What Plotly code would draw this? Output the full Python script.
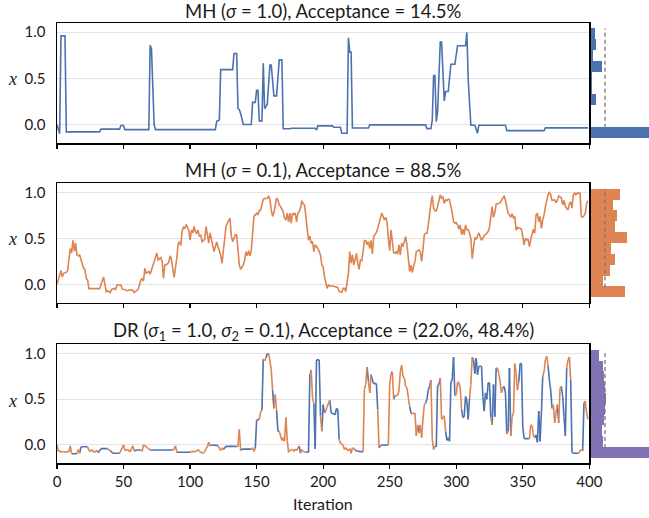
import plotly.graph_objects as go

# ---------------- data ----------------
# Panel 1: MH sigma=1.0  (vertices of the trace: iteration, x)
mh1_iter = [0, 2, 3, 6, 7, 32, 33, 47, 48, 50, 51, 69, 70, 71, 73, 74, 119, 120, 122, 123,
            132, 133, 135, 136, 137, 138, 140, 146, 147, 149, 150, 151, 152, 154, 155, 156,
            158, 160, 161, 163, 165, 167, 169, 170, 175, 176, 194, 195, 196, 207, 208, 213,
            214, 218, 219, 220, 221, 222, 234, 235, 277, 278, 281, 282, 283, 284, 285, 286,
            288, 289, 291, 292, 294, 296, 299, 301, 307, 308, 309, 311, 314, 316, 317, 337,
            338, 366, 367, 399]
mh1_vals = [0.0, -0.1, 0.96, 0.96, -0.08, -0.08, -0.05, -0.05, -0.01, -0.01, -0.055, -0.055,
            0.86, 0.82, 0.0, -0.055, -0.055, 0.035, 0.05, 0.595, 0.595, 0.77, 0.77, 0.175,
            0.16, 0.12, 0.0, 0.0, 0.24, 0.24, 0.37, 0.37, 0.04, 0.04, 0.665, 0.17, 0.22, 0.645,
            0.645, 0.31, 0.31, 0.70, 0.70, -0.045, -0.045, -0.04, -0.04, -0.06, -0.015, -0.015,
            -0.03, -0.03, -0.095, -0.095, 0.94, 0.785, 0.785, -0.037, -0.037, -0.004, -0.004,
            -0.044, -0.044, 0.05, 0.53, 0.53, 0.03, 0.14, 0.894, 0.894, 0.255, 0.358, 0.358,
            0.653, 0.653, 0.854, 0.854, 1.0, 0.49, -0.007, -0.007, -0.095, -0.007, -0.007,
            -0.066, -0.066, -0.036, -0.036]

# Panel 2: MH sigma=0.1
mh2_iter = [0, 1, 3, 4, 5, 7, 8, 9, 10, 11, 12, 13, 14, 15, 16, 17, 18, 19, 20, 21, 22, 23, 24,
            32, 34, 35, 37, 38, 40, 41, 43, 44, 45, 48, 49, 51, 53, 55, 57, 58, 60, 61, 63, 64,
            65, 66, 67, 69, 70, 71, 73, 74, 75, 76, 77, 78, 79, 80, 81, 82, 84, 85, 86, 87, 88,
            90, 91, 92, 93, 94, 95, 96, 97, 98, 99, 100, 101, 102, 103, 104, 105, 106, 107, 108,
            109, 111, 112, 113, 114, 115, 116, 117, 118, 119, 120, 121, 122, 123, 124, 125, 126,
            127, 128, 129, 130, 131, 132, 133, 134, 135, 136, 137, 138, 140, 141, 142, 143, 144,
            145, 146, 147, 148, 149, 150, 151, 152, 153, 154, 155, 156, 158, 159, 160, 161, 162,
            163, 164, 165, 166, 167, 168, 169, 170, 171, 172, 173, 174, 175, 176, 177, 178, 179,
            180, 181, 182, 183, 184, 185, 186, 187, 188, 189, 190, 191, 192, 193, 194, 195, 196,
            197, 198, 199, 200, 201, 202, 203, 204, 205, 207, 209, 211, 212, 214, 215, 216, 217,
            218, 219, 220, 221, 222, 223, 224, 225, 226, 227, 228, 229, 230, 231, 232, 233, 234,
            235, 236, 237, 238, 239, 240, 241, 242, 243, 244, 245, 246, 247, 248, 249, 250, 251,
            252, 253, 254, 255, 256, 257, 258, 259, 260, 261, 262, 263, 264, 265, 266, 267, 268,
            269, 270, 271, 272, 273, 274, 275, 276, 277, 278, 279, 280, 281, 282, 283, 284, 285,
            286, 287, 288, 289, 290, 291, 292, 293, 294, 295, 296, 297, 298, 299, 300, 301, 302,
            303, 304, 305, 306, 307, 308, 309, 310, 311, 312, 313, 314, 315, 316, 317, 318, 319,
            320, 321, 322, 323, 324, 325, 326, 327, 328, 329, 330, 331, 332, 333, 334, 335, 336,
            337, 338, 339, 340, 341, 342, 343, 344, 345, 346, 347, 348, 349, 350, 351, 352, 353,
            354, 355, 356, 357, 358, 359, 360, 361, 362, 363, 364, 365, 366, 367, 368, 369, 370,
            371, 372, 373, 374, 375, 376, 377, 378, 379, 380, 381, 382, 383, 384, 385, 386, 387,
            388, 389, 390, 391, 393, 394, 395, 396, 397, 398, 399]
mh2_vals = [0.0, 0.05, 0.15, 0.08, 0.12, 0.13, 0.15, 0.28, 0.39, 0.34, 0.48, 0.36, 0.45, 0.32,
            0.31, 0.32, 0.27, 0.20, 0.175, 0.16, 0.065, 0.047, -0.047, -0.047, 0.03, 0.08, -0.08,
            -0.07, -0.09, -0.055, -0.044, -0.06, -0.007, -0.007, -0.05, -0.06, -0.07, -0.06,
            -0.065, -0.09, -0.07, -0.055, 0.047, 0.06, 0.036, 0.175, 0.12, 0.14, 0.11, 0.16, 0.25,
            0.29, 0.34, 0.265, 0.28, 0.29, 0.25, 0.065, 0.21, 0.21, 0.24, 0.31, 0.27, 0.175,
            0.076, 0.28, 0.44, 0.465, 0.42, 0.575, 0.62, 0.61, 0.65, 0.62, 0.59, 0.48, 0.59, 0.56,
            0.63, 0.575, 0.556, 0.59, 0.52, 0.54, 0.465, 0.49, 0.63, 0.54, 0.45, 0.56, 0.50,
            0.447, 0.356, 0.41, 0.46, 0.41, 0.356, 0.32, 0.23, 0.39, 0.48, 0.63, 0.665, 0.70,
            0.72, 0.527, 0.465, 0.50, 0.54, 0.54, 0.40, 0.21, 0.164, 0.21, 0.265, 0.356, 0.31,
            0.367, 0.31, 0.367, 0.556, 0.74, 0.756, 0.775, 0.756, 0.80, 0.81, 0.876, 0.927,
            0.935, 0.935, 0.964, 0.927, 0.81, 0.74, 0.78, 0.847, 0.94, 0.92, 0.865, 0.847, 0.81,
            0.79, 0.72, 0.70, 0.775, 0.68, 0.775, 0.665, 0.775, 0.76, 0.775, 0.68, 0.775, 0.79,
            0.83, 0.91, 0.875, 0.865, 0.74, 0.61, 0.48, 0.527, 0.447, 0.465, 0.356, 0.43, 0.41,
            0.39, 0.356, 0.32, 0.21, 0.19, 0.084, 0.03, -0.044, -0.007, -0.018, -0.018, -0.025,
            -0.033, -0.08, -0.087, -0.044, -0.044, -0.08, 0.047, 0.12, 0.356, 0.23, 0.32, 0.21,
            0.265, 0.338, 0.23, 0.164, 0.265, 0.258, 0.356, 0.476, 0.476, 0.43, 0.465, 0.39,
            0.48, 0.33, 0.52, 0.54, 0.565, 0.61, 0.665, 0.72, 0.775, 0.74, 0.70, 0.73, 0.68,
            0.50, 0.367, 0.594, 0.465, 0.345, 0.338, 0.356, 0.33, 0.43, 0.32, 0.45, 0.41, 0.465,
            0.52, 0.43, 0.28, 0.14, 0.21, 0.127, 0.20, 0.25, 0.356, 0.367, 0.375, 0.356, 0.25,
            0.38, 0.54, 0.556, 0.556, 0.647, 0.79, 0.88, 0.964, 0.83, 0.80, 0.80, 0.847, 0.92,
            0.975, 0.94, 0.95, 0.88, 0.92, 0.91, 0.927, 0.92, 0.855, 0.775, 0.68, 0.665, 0.67,
            0.647, 0.60, 0.647, 0.54, 0.60, 0.54, 0.647, 0.594, 0.594, 0.556, 0.50, 0.28, 0.41,
            0.51, 0.49, 0.53, 0.56, 0.52, 0.48, 0.50, 0.53, 0.54, 0.556, 0.575, 0.62, 0.756,
            0.847, 0.73, 0.775, 0.876, 0.876, 0.88, 0.89, 0.92, 0.94, 0.964, 0.913, 0.83, 0.775,
            0.756, 0.73, 0.77, 0.72, 0.74, 0.59, 0.62, 0.61, 0.61, 0.60, 0.52, 0.43, 0.50, 0.485,
            0.49, 0.41, 0.49, 0.556, 0.60, 0.556, 0.756, 0.775, 0.68, 0.74, 0.61, 0.70, 0.756,
            0.847, 0.91, 0.975, 1.0, 0.975, 0.913, 0.913, 0.92, 0.89, 0.913, 0.964, 0.956, 0.94,
            0.865, 0.913, 0.847, 0.83, 0.81, 0.876, 0.90, 0.83, 0.975, 0.993, 0.975, 0.993,
            0.993, 0.74, 0.73, 0.745, 0.775, 0.88, 0.91]

# Panel 3: delayed rejection; stage = 1 (first proposal, blue) or 2 (second stage, orange)
dr_iter = [0, 1, 2, 3, 5, 7, 8, 9, 10, 11, 15, 16, 17, 18, 23, 24, 25, 26, 28, 30, 31, 33, 38,
           39, 40, 42, 47, 49, 50, 51, 53, 55, 56, 57, 58, 60, 63, 64, 65, 66, 68, 70, 87, 88,
           89, 90, 100, 101, 103, 105, 106, 107, 109, 110, 111, 112, 113, 114, 115, 116, 121,
           122, 123, 124, 125, 127, 135, 136, 137, 138, 139, 146, 147, 148, 149, 150, 152, 153,
           154, 155, 156, 157, 158, 159, 160, 161, 162, 163, 164, 165, 166, 167, 168, 169, 170,
           171, 172, 173, 174, 175, 176, 177, 178, 179, 180, 182, 183, 184, 185, 187, 189, 190,
           191, 192, 193, 194, 195, 197, 198, 199, 200, 201, 202, 203, 205, 206, 208, 209, 210,
           211, 212, 213, 214, 215, 216, 217, 219, 220, 221, 222, 224, 225, 230, 231, 232, 233,
           234, 235, 236, 237, 238, 240, 241, 242, 243, 244, 249, 250, 251, 252, 253, 254, 256,
           257, 258, 259, 260, 261, 262, 263, 264, 265, 266, 267, 269, 270, 271, 272, 273, 274,
           275, 276, 277, 278, 279, 280, 281, 282, 283, 284, 285, 286, 287, 288, 289, 290, 291,
           292, 293, 294, 295, 296, 297, 298, 299, 300, 301, 302, 303, 304, 305, 306, 307, 308,
           309, 310, 311, 312, 313, 314, 315, 316, 317, 319, 320, 321, 322, 323, 324, 325, 326,
           327, 328, 329, 330, 331, 332, 333, 334, 335, 336, 337, 338, 339, 340, 341, 342, 343,
           344, 345, 346, 347, 348, 349, 350, 351, 355, 356, 357, 358, 359, 360, 361, 362, 363,
           364, 365, 366, 367, 368, 369, 370, 371, 372, 373, 374, 375, 376, 377, 378, 379, 380,
           381, 382, 383, 384, 385, 386, 387, 388, 392, 393, 394, 395, 396, 397, 398, 399]
dr_vals = [0.0, -0.07, -0.06, -0.08, -0.07, -0.085, -0.065, -0.075, -0.01, -0.095, -0.095, -0.05,
           -0.09, -0.02, -0.02, -0.06, -0.07, -0.05, -0.08, -0.06, -0.085, -0.04, -0.04, -0.055,
           -0.06, -0.09, -0.09, -0.03, 0.0, -0.06, -0.05, -0.075, -0.04, -0.01, -0.065, -0.055,
           -0.055, -0.07, 0.0, -0.01, -0.03, -0.055, -0.055, -0.045, -0.01, -0.08, -0.08, -0.07,
           -0.075, -0.065, -0.05, -0.07, -0.085, -0.09, -0.07, -0.04, -0.02, 0.03, -0.01, 0.0,
           -0.005, -0.04, -0.06, -0.03, -0.05, -0.015, -0.015, -0.02, 0.17, -0.06, -0.045,
           -0.045, -0.03, -0.07, -0.04, 0.27, 0.28, 0.36, 0.38, 0.94, 0.92, 0.95, 1.0, 1.0, 0.92,
           0.82, 0.6, 0.4, 0.55, 0.38, 0.15, 0.15, 0.1, 0.05, 0.08, 0.04, 0.3, 0.05, -0.08,
           -0.06, -0.05, -0.05, -0.07, -0.045, -0.06, -0.01, -0.09, -0.05, -0.07, -0.08, -0.08,
           0.77, 0.82, 0.52, 0.45, -0.04, 0.93, 0.93, 0.32, 0.15, 0.44, 0.35, 0.37, 0.42, 0.49,
           0.35, 0.34, 0.33, 0.40, 0.39, 0.06, 0.02, 0.01, 0.0, -0.05, -0.03, -0.065, -0.04,
           -0.09, -0.03, -0.05, -0.065, -0.075, 0.61, 0.66, 0.85, 0.70, 0.57, 0.77, 0.71, 0.67,
           0.67, 0.39, -0.03, -0.01, 0.0, 0.0, 0.66, 0.78, 0.80, 0.5, 0.54, 0.54, 0.6, 0.80,
           0.87, 0.75, 0.73, 0.64, 0.62, 0.52, 0.42, 0.35, 0.34, 0.35, 0.1, 0.22, 0.13, 0.22,
           0.08, 0.28, 0.44, 0.46, 0.5, 0.6, 0.64, 0.71, 0.06, -0.05, -0.01, -0.02, 0.65, 0.66,
           0.73, 0.28, 0.30, 0.32, 0.15, 0.05, 0.08, 0.04, 0.69, 0.71, 0.96, 0.54, 0.55, 0.69,
           0.68, 0.62, 0.39, 0.30, 0.31, 0.53, 0.48, 0.28, 0.51, 0.66, 0.96, 0.93, 0.78, 0.95,
           0.77, 0.86, 0.86, 0.53, 0.37, 0.57, 0.5, 0.68, 0.68, 0.30, 0.22, 0.66, 0.31, 0.84,
           0.84, 0.78, 0.69, 0.57, 0.62, 0.64, 0.57, 0.12, 0.15, 0.84, 0.10, 0.31, 0.35, 0.89,
           0.78, 0.60, 0.69, 0.89, 0.89, 0.2, 0.07, 0.07, 0.22, 0.21, 0.10, 0.08, 0.11, 0.03,
           0.37, 0.04, 0.35, 0.75, 0.80, 0.93, 0.97, 0.87, 0.71, 0.60, 0.40, 0.44, 0.24, 0.35,
           0.44, 0.24, 0.62, 0.64, 0.53, 0.31, 0.10, 0.84, 0.93, 0.96, 0.71, -0.08, -0.09, -0.09,
           -0.065, -0.05, -0.065, 0.46, 0.48, 0.35, 0.28]
dr_stage = [1, 2, 2, 2, 2, 2, 2, 2, 2, 2, 1, 2, 2, 1, 1, 2, 2, 2, 2, 2, 2, 1, 1, 2, 2, 1, 1, 2,
            2, 2, 2, 2, 2, 2, 2, 1, 1, 2, 2, 2, 2, 2, 1, 2, 2, 2, 1, 2, 2, 2, 2, 2, 2, 2, 2, 2,
            2, 2, 2, 1, 1, 2, 2, 2, 2, 1, 1, 2, 2, 2, 1, 1, 2, 2, 2, 1, 1, 2, 2, 1, 2, 2, 1, 2,
            2, 2, 2, 1, 2, 2, 1, 1, 2, 2, 2, 2, 2, 2, 2, 2, 2, 2, 2, 2, 2, 2, 1, 2, 2, 2, 1, 1,
            2, 2, 2, 1, 1, 1, 1, 2, 1, 1, 2, 2, 2, 1, 1, 1, 1, 1, 1, 2, 2, 2, 2, 2, 2, 2, 2, 2,
            2, 1, 1, 2, 2, 2, 1, 2, 2, 1, 1, 1, 1, 2, 1, 1, 1, 2, 2, 1, 2, 1, 2, 2, 2, 2, 2, 2,
            2, 2, 2, 2, 1, 1, 2, 2, 2, 1, 2, 2, 2, 2, 2, 1, 1, 1, 1, 2, 2, 2, 1, 1, 1, 1, 2, 2,
            2, 2, 1, 1, 1, 1, 1, 1, 1, 2, 2, 2, 2, 2, 1, 1, 1, 1, 1, 1, 2, 2, 1, 1, 1, 1, 1, 1,
            1, 1, 1, 1, 1, 1, 1, 2, 1, 1, 1, 2, 2, 2, 2, 2, 1, 1, 1, 2, 1, 1, 2, 2, 2, 2, 2, 2,
            1, 1, 1, 1, 1, 2, 2, 2, 2, 1, 1, 1, 1, 1, 1, 2, 2, 2, 2, 1, 1, 1, 2, 2, 2, 2, 1, 2,
            2, 1, 1, 1, 1, 2, 2, 2, 1, 1, 1, 2, 2, 2, 1, 2, 2, 2]

# Histograms (10 equal bins over the chain's range, bottom bin first), relative widths
hist_lo, hist_hi = -0.1, 1.0
mh1_hist = [7.0, 0.03, 0.03, 0.41, 0.11, 0.07, 0.76, 0.14, 0.41, 0.28]
mh2_hist = [2.37, 0.87, 1.33, 1.72, 1.38, 2.52, 1.68, 1.86, 1.52, 2.02]
dr_hist = [7.0, 0.88, 0.76, 0.90, 0.99, 1.05, 0.99, 0.92, 0.83, 0.60]
target_density = 1.0

titles = ["MH (<i>σ</i> = 1.0), Acceptance = 14.5%",
          "MH (<i>σ</i> = 0.1), Acceptance = 88.5%",
          "DR (<i>σ</i><sub>1</sub> = 1.0, <i>σ</i><sub>2</sub> = 0.1), Acceptance = (22.0%, 48.4%)"]
x_ticks = [0, 50, 100, 150, 200, 250, 300, 350, 400]
y_ticks = [0.0, 0.5, 1.0]
y_ticktext = ["0.0", "0.5", "1.0"]

# ---------------- styling ----------------
BLUE = "#4C72B0"
ORANGE = "#DD8452"
PURPLE = "#8172B3"
W, H = 649, 518
FONT = "Lato"
TXT = "#1a1a1a"

main_x = [57 / W, 589.3 / W]
hist_x = [590.5 / W, 1.0]
panel_px = [(23, 143), (183.3, 302.7), (344.3, 463.3)]
y_doms = [[1 - b / H, 1 - t / H] for t, b in panel_px]
hist_px_unit = 14.5
hist_range = [0, (W - 590.5) / hist_px_unit]

fig = go.Figure()

def add_axes(i):
    n = "" if i == 0 else str(i * 2 + 1)
    nh = str(i * 2 + 2)
    last = (i == 2)
    fig.layout["xaxis" + n] = dict(
        domain=main_x, range=[0, 400], anchor="y" + n, tickvals=x_ticks,
        ticks="outside", ticklen=4, tickwidth=1.2, tickcolor="black",
        showticklabels=last, showline=True, linecolor="black", linewidth=1.5,
        mirror=True, showgrid=False, zeroline=False, automargin=False,
        tickfont=dict(family=FONT, size=15, color=TXT))
    fig.layout["yaxis" + n] = dict(
        domain=y_doms[i], range=[-0.2, 1.1], anchor="x" + n, tickvals=y_ticks,
        ticktext=y_ticktext, ticks="", showline=True, linecolor="black", linewidth=1.5,
        mirror=True, showgrid=True, gridcolor="#e3e3e3", gridwidth=1, zeroline=False,
        automargin=False, ticklabelstandoff=7,
        tickfont=dict(family=FONT, size=15, color=TXT))
    fig.layout["xaxis" + nh] = dict(domain=hist_x, range=hist_range, anchor="y" + nh,
                                    visible=False, showgrid=False, zeroline=False,
                                    automargin=False)
    fig.layout["yaxis" + nh] = dict(domain=y_doms[i], anchor="x" + nh,
                                    range=[hist_lo - 0.05 * (hist_hi - hist_lo),
                                           hist_hi + 0.05 * (hist_hi - hist_lo)],
                                    visible=False, showgrid=False, zeroline=False,
                                    automargin=False)
    return ("x" + n if n else "x"), ("y" + n if n else "y"), "x" + nh, "y" + nh

axes = [add_axes(i) for i in range(3)]

# main traces
fig.add_trace(go.Scatter(x=mh1_iter, y=mh1_vals, mode="lines", line=dict(color=BLUE, width=1.6),
                         xaxis=axes[0][0], yaxis=axes[0][1], showlegend=False))
fig.add_trace(go.Scatter(x=mh2_iter, y=mh2_vals, mode="lines", line=dict(color=ORANGE, width=1.6),
                         xaxis=axes[1][0], yaxis=axes[1][1], showlegend=False))

# DR: colour each step by the stage that produced it
for stage, col in [(1, BLUE), (2, ORANGE)]:
    xs, ys = [], []
    for k in range(1, len(dr_iter)):
        if dr_stage[k] == stage:
            xs += [dr_iter[k - 1], dr_iter[k], None]
            ys += [dr_vals[k - 1], dr_vals[k], None]
    fig.add_trace(go.Scatter(x=xs, y=ys, mode="lines", line=dict(color=col, width=1.6),
                             xaxis=axes[2][0], yaxis=axes[2][1], showlegend=False,
                             connectgaps=False))

# histograms
bw = (hist_hi - hist_lo) / 10
centers = [hist_lo + (k + 0.5) * bw for k in range(10)]
for i, (hv, col) in enumerate([(mh1_hist, BLUE), (mh2_hist, ORANGE), (dr_hist, PURPLE)]):
    fig.add_trace(go.Bar(x=hv, y=centers, orientation="h", width=bw,
                         marker=dict(color=col, line=dict(width=0)),
                         xaxis=axes[i][2], yaxis=axes[i][3], showlegend=False))
    fig.add_trace(go.Scatter(x=[target_density, target_density], y=[0, 1], mode="lines",
                             line=dict(color="#777777", width=1.3, dash="4px,3px"),
                             xaxis=axes[i][2], yaxis=axes[i][3], showlegend=False))

# titles / labels
title_y = [1 - 11 / H, 1 - 170.5 / H, 1 - 331 / H]
label_y = [1 - 79 / H, 1 - 239 / H, 1 - 401 / H]
cx = (main_x[0] + main_x[1]) / 2
for i in range(3):
    fig.add_annotation(text=titles[i], x=cx, y=title_y[i], xref="paper", yref="paper",
                       xanchor="center", yanchor="middle", showarrow=False,
                       font=dict(family=FONT, size=18.5, color=TXT))
    fig.add_annotation(text="<i>x</i>", x=12 / W, y=label_y[i], xref="paper", yref="paper",
                       xanchor="center", yanchor="middle", showarrow=False,
                       font=dict(family="Liberation Serif", size=18, color=TXT))
fig.add_annotation(text="Iteration", x=cx, y=1 - 503 / H, xref="paper", yref="paper",
                   xanchor="center", yanchor="middle", showarrow=False,
                   font=dict(family=FONT, size=16, color=TXT))

fig.update_layout(width=W, height=H, margin=dict(l=0, r=0, t=0, b=0, autoexpand=False),
                  paper_bgcolor="white", plot_bgcolor="white", bargap=0, hovermode=False)

fig.write_html("out.html", config={"displayModeBar": False, "staticPlot": True},
               post_script="document.body.style.margin='0';document.body.style.overflow='hidden';")
